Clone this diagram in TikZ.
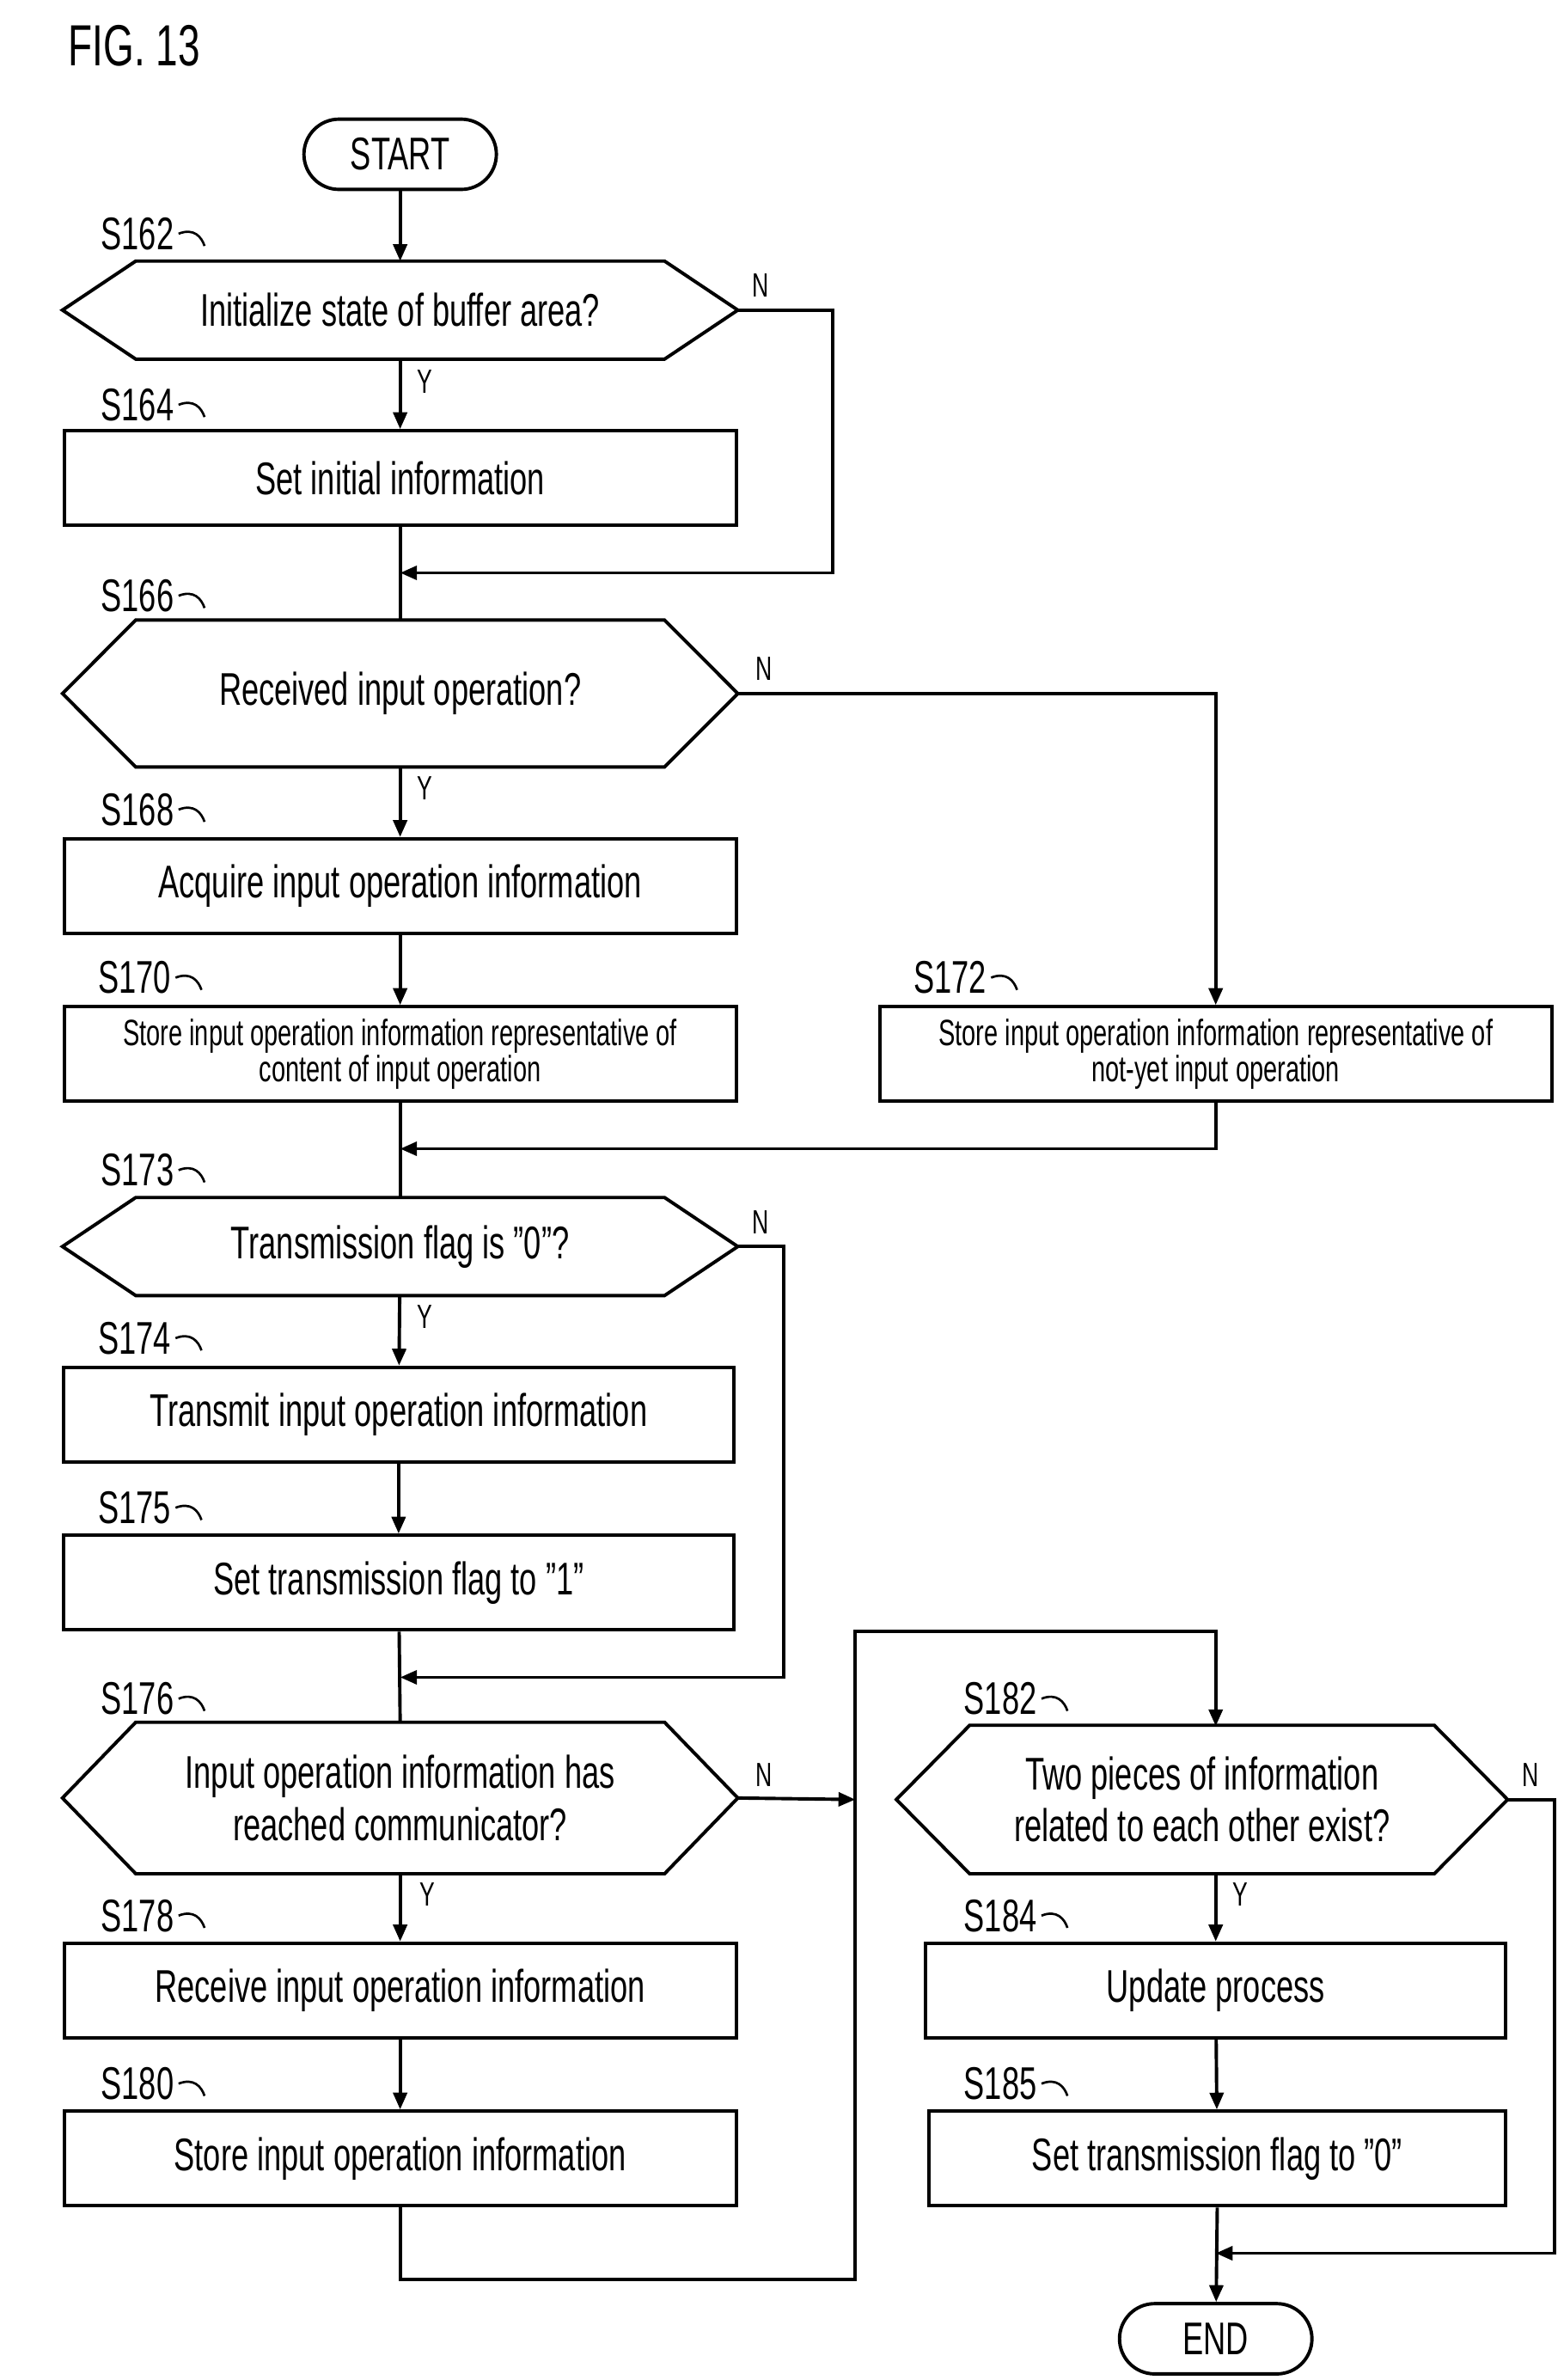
\documentclass[tikz,border=0pt]{standalone}
\usepackage{fontspec}
\setmainfont[FakeStretch=0.68]{Liberation Sans}
\usetikzlibrary{arrows.meta}
\begin{document}
\begin{tikzpicture}[x=1pt,y=-1pt,line width=2.2pt,
  box/.style={draw,minimum width=440pt,minimum height=62pt,inner sep=0pt,font=\fontsize{30}{32}\selectfont,align=center},
  sbox/.style={box,font=\fontsize{24}{24}\selectfont},
  hx/.style={minimum width=440pt,inner sep=0pt,font=\fontsize{30}{34}\selectfont,align=center},
  term/.style={draw,rounded corners=23pt,minimum height=46pt,font=\fontsize{30}{32}\selectfont},
  lbl/.style={font=\fontsize{30}{32}\selectfont,inner sep=0pt},
  yn/.style={font=\fontsize{22}{24}\selectfont,inner sep=0pt},
  arr/.style={-{Triangle[length=11pt,width=9pt]}}]
\useasboundingbox (0,0) rectangle (1024,1558);
\newcommand{\hexa}[1]{\draw (#1.west) -- ([xshift=48pt]#1.north west) -- ([xshift=-48pt]#1.north east) -- (#1.east) -- ([xshift=-48pt]#1.south east) -- ([xshift=48pt]#1.south west) -- cycle;}
\newcommand{\slab}[3]{\node[lbl] (l#1) at (#2,#3) {S#1};
  \draw[line width=1.5pt] ([xshift=2pt]l#1.east) .. controls +(10,-4) and +(-2,-6) .. +(17,8);}
\node[font=\fontsize{38}{40}\selectfont] (fig) at (88,30) {FIG. 13};
\node[term,minimum width=126pt] (start) at (262,101) {START};
\node[hx,minimum height=62pt] (s162) at (262,203) {Initialize state of buffer area?}; \hexa{s162}
\slab{162}{90}{153}
\node[box] (s164) at (262,313) {Set initial information}; \slab{164}{90}{265}
\node[hx,minimum height=94pt] (s166) at (262,454) {Received input operation?}; \hexa{s166}
\slab{166}{90}{390}
\node[box] (s168) at (262,580) {Acquire input operation information}; \slab{168}{90}{530}
\node[sbox] (s170) at (262,690) {Store input operation information representative of\\content of input operation}; \slab{170}{88}{640}
\node[sbox] (s172) at (796,690) {Store input operation information representative of\\not-yet input operation}; \slab{172}{622}{640}
\node[hx,minimum height=62pt] (s173) at (262,816) {Transmission flag is "0"?}; \hexa{s173}
\slab{173}{90}{766}
\node[box,minimum width=439pt] (s174) at (261,926) {Transmit input operation information}; \slab{174}{88}{876}
\node[box,minimum width=439pt] (s175) at (261,1036) {Set transmission flag to "1"}; \slab{175}{88}{987}
\node[hx,minimum height=97pt] (s176) at (262,1177) {Input operation information has\\reached communicator?}; \hexa{s176}
\slab{176}{90}{1112}
\node[box] (s178) at (262,1303) {Receive input operation information}; \slab{178}{90}{1254}
\node[box] (s180) at (262,1413) {Store input operation information}; \slab{180}{90}{1364}
\node[hx,minimum width=398pt,minimum height=95pt] (s182) at (787,1178) {Two pieces of information\\related to each other exist?}; \hexa{s182}
\slab{182}{655}{1112}
\node[box,minimum width=380pt] (s184) at (796,1303) {Update process}; \slab{184}{655}{1254}
\node[box,minimum width=378pt] (s185) at (797,1413) {Set transmission flag to "0"}; \slab{185}{655}{1364}
\node[term,minimum width=126pt] (end) at (796,1531) {END};
\coordinate (j1) at (262,375); \coordinate (j2) at (262,752);
\coordinate (j3) at (262,1098); \coordinate (j4) at (560,1178);
\coordinate (j5) at (796,1475);
\draw[arr] (start) -- (s162);
\draw[arr] (s162) -- (s164);
\draw (s164) -- (s166.north);
\draw[arr] (s162.east) -- (545,203) |- (j1);
\draw[arr] (s166) -- (s168);
\draw[arr] (s166.east) -| (s172.north);
\draw[arr] (s168) -- (s170);
\draw (s170) -- (s173.north);
\draw[arr] (s172.south) |- (j2);
\draw[arr] (s173) -- (s174);
\draw[arr] (s174) -- (s175);
\draw (s175) -- (s176.north);
\draw[arr] (s173.east) -- (513,816) |- (j3);
\draw[arr] (s176.east) -- (j4);
\draw[arr] (s176) -- (s178);
\draw[arr] (s178) -- (s180);
\draw[arr] (s180.south) -- (262,1492) -- (560,1492) -- (560,1068) -| (796,1130);
\draw[arr] (796,1226) -- (s184);
\draw[arr] (s184) -- (s185);
\draw[arr] (s185.south) -- (end);
\draw[arr] (s182.east) -- (1018,1178) |- (j5);
\node[yn] at (498,187) {N}; \node[yn] at (278,250) {Y};
\node[yn] at (500,438) {N}; \node[yn] at (278,516) {Y};
\node[yn] at (498,800) {N}; \node[yn] at (278,862) {Y};
\node[yn] at (500,1162) {N}; \node[yn] at (280,1240) {Y};
\node[yn] at (1002,1162) {N}; \node[yn] at (812,1240) {Y};
\end{tikzpicture}
\end{document}
